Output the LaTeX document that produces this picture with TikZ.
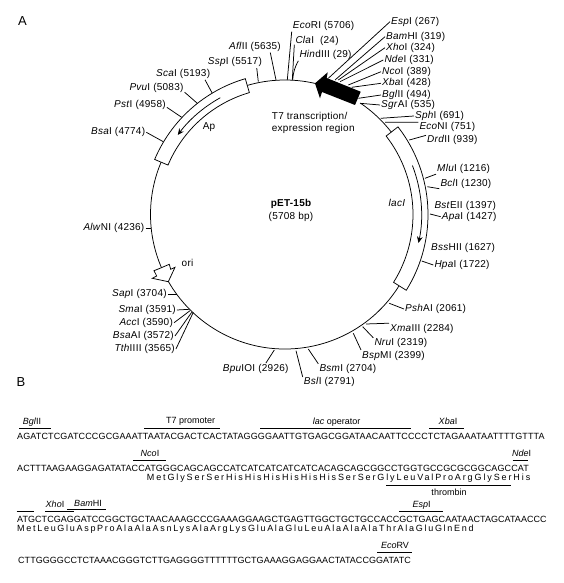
\documentclass[tikz,border=0pt]{standalone}
\usepackage{fontspec}
\setmainfont{Liberation Sans}
\newfontfamily\sitefont[LetterSpace=2.5]{Liberation Sans}
\newfontfamily\seqfont[LetterSpace=0.5]{Liberation Sans}
\newfontfamily\seqwidefont[LetterSpace=1.5]{Liberation Sans}
\newfontfamily\seqmidfont[LetterSpace=1.05]{Liberation Sans}
\newfontfamily\aminofont[LetterSpace=21]{Liberation Sans}
\newfontfamily\aminotightfont[LetterSpace=19]{Liberation Sans}
\usetikzlibrary{arrows.meta,positioning}

\begin{document}
\begin{tikzpicture}[
  x=1pt,y=1pt,
  thin line/.style={line width=.75pt,black},
  site/.style={font=\sitefont\fontsize{10}{11.5}\selectfont,inner sep=1pt},
  tag/.style={font=\fontsize{9}{10}\selectfont,inner sep=0pt},
  seqline/.style={font=\seqfont\fontsize{9}{10}\selectfont,inner sep=0pt,anchor=west},
  aminoline/.style={font=\aminofont\fontsize{9}{10}\selectfont,inner sep=0pt,anchor=west},
  panel/.style={font=\fontsize{13}{14}\selectfont,inner sep=0pt},
  arrow/.style={-{Stealth[length=2.2mm,width=2mm]},thin line}
]
\useasboundingbox (0,0) rectangle (563,-583);
\node[panel] (panelA) at (22.5,-20.7) {A};
\node[panel] (panelB) at (21,-381.7) {B};

% plasmid map
\coordinate (c) at (285,-214.5);
\begin{scope}[shift={(c)}]
  \draw[thin line] (106.3:134.5) arc[start angle=106.3,end angle=77.1,radius=134.5pt];
  \draw[thin line] (55.9:134.5) arc[start angle=55.9,end angle=37.8,radius=134.5pt];
  \draw[thin line] (-32:134.5) arc[start angle=-32,end angle=-150.1,radius=134.5pt];
  \draw[thin line] (203.3:134.5) arc[start angle=203.3,end angle=157.1,radius=134.5pt];
  % Ap and lacI boxes
  \draw[thin line] (106.3:141.5) arc[start angle=106.3,end angle=157.1,radius=141.5pt]
    -- (157.1:127) arc[start angle=157.1,end angle=106.3,radius=127pt] -- cycle;
  \draw[thin line] (37.8:143) arc[start angle=37.8,end angle=-32,radius=143pt]
    -- (-32:128) arc[start angle=-32,end angle=37.8,radius=128pt] -- cycle;
  \draw[arrow] (119:133.5) arc[start angle=119,end angle=143.4,radius=133.5pt];
  \draw[arrow] (21:136.5) arc[start angle=21,end angle=-12,radius=136.5pt];
\end{scope}
% T7 region and ori
\fill[black] (315,-83.3) -- (327.7,-72.3) -- (326.7,-78) -- (360.7,-91.7)
  -- (355,-105) -- (322,-92) -- (320,-98.3) -- cycle;
\draw[thin line] (160,-268.3) -- (169.3,-264.3) -- (170.7,-269.3) -- (175,-267.3)
  -- (168.3,-281.7) -- (152.3,-278.3) -- (156.7,-276) -- (154,-270.7) -- cycle;

\node[font=\sitefont\bfseries\fontsize{10}{11}\selectfont,inner sep=0pt] (name) at (291,-204) {pET-15b};
\node[site,inner sep=0pt] (size) at (291,-216.7) {(5708 bp)};
\node[site,inner sep=0pt,align=left,anchor=north west] (t7region) at (271.7,-112.5)
  {T7 transcription/\\expression region};
\node[site,inner sep=0pt] (ap) at (209,-126.7) {Ap};
\node[site,inner sep=0pt] (oriname) at (187.5,-263.3) {ori};
\node[site,inner sep=0pt] (lacI) at (397,-203.3) {\textit{lacI}};

% restriction sites: name/label x/label y/text/tick start on label/tick end x/tick end y
\foreach \nm/\lx/\ly/\txt/\sta/\tx/\ty in {
  aflII/228/46.7/{\textit{Afl}II (5635)}/-21/276/80,
  sspI/206.7/62.3/{\textit{Ssp}I (5517)}/-15/258.3/81.7,
  scaI/155/74/{\textit{Sca}I (5193)}/-15/212.3/93.3,
  pvuI/128.3/88.3/{\textit{Pvu}I (5083)}/-8/197.3/103.3,
  pstI/113/105/{\textit{Pst}I (4958)}/-5/181.7/117.3,
  bsaI/90/132.3/{\textit{Bsa}I (4774)}/0/163.3/141.7,
  ecoRI/291.7/26/{\textit{Eco}RI (5706)}/190/287.3/80,
  claI/294.3/40.7/{\textit{Cla}I \ (24)}/190/292.3/80,
  espI/390/21.7/{\textit{Esp}I (267)}/180/328.3/78.3,
  bamHI/385/36.7/{\textit{Bam}HI (319)}/180/335/80,
  xhoI/385/47.7/{\textit{Xho}I (324)}/180/338.3/80,
  ndeI/383.3/60/{\textit{Nde}I (331)}/180/340/81.7,
  ncoI/381/71.7/{\textit{Nco}I (389)}/180/348.3/85,
  xbaI/381/83.3/{\textit{Xba}I (428)}/180/351.7/87.3,
  bglII/381/95/{\textit{Bgl}II (494)}/180/358.3/98.3,
  sgrAI/380/105/{\textit{Sgr}AI (535)}/180/360/103.3,
  sphI/414/116/{\textit{Sph}I (691)}/180/380.7/118.3,
  ecoNI/418.3/127.3/{\textit{Eco}NI (751)}/170/385/122.3,
  drdII/426/140/{\textit{Drd}II (939)}/170/409.3/140,
  mluI/436/169.3/{\textit{Mlu}I (1216)}/190/425/178.3,
  bclI/439.3/184/{\textit{Bcl}I (1230)}/190/427.3/186.7,
  apaI/440.7/216.7/{\textit{Apa}I (1427)}/180/430/214,
  hpaI/433.3/265/{\textit{Hpa}I (1722)}/180/421.7/261,
  pshAI/404/309/{\textit{Psh}AI (2061)}/180/389.3/303.3,
  xmaIII/389/329/{\textit{Xma}III (2284)}/170/366/324,
  nruI/373.3/342.7/{\textit{Nru}I (2319)}/170/362.7/326.7,
  bspMI/361/355.7/{\textit{Bsp}MI (2399)}/170/353.3/333.3,
  bsmI/318.3/369/{\textit{Bsm}I (2704)}/170/308.3/349,
  bslI/302.7/381.7/{\textit{Bsl}I (2791)}/170/296/350.7,
  bpuIOI/221.7/369/{\textit{Bpu}IOI (2926)}/30/274.3/350,
  sapI/111/294.3/{\textit{Sap}I (3704)}/0/176.7/294.3,
  smaI/117.3/310/{\textit{Sma}I (3591)}/0/189.3/309.3,
  accI/118.3/322.7/{\textit{Acc}I (3590)}/0/190/310.7,
  bsaAI/111.7/336/{\textit{Bsa}AI (3572)}/0/191.7/312.3,
  tthIIII/113.3/349/{\textit{Tth}IIII (3565)}/0/193.3/312.3,
  alwNI/82.3/228.3/{\textit{Alw}NI (4236)}/0/150.7/228.3}{
  \node[site,anchor=west] (\nm) at (\lx,-\ly) {\txt};
  \coordinate (\nm tick) at (\tx,-\ty);
  \draw[thin line] (\nm.\sta) -- (\nm tick);
}
% sites without a tick of their own
\node[site,anchor=west] (hindIII) at (298.3,-55) {\textit{Hin}dIII (29)};
\coordinate (hindIIItick) at (292.7,-80);
\draw[thin line] (hindIII.south west) to[bend right=12] (hindIIItick);
\node[site,anchor=west] (bstEII) at (433.3,-205.7) {\textit{Bst}EII (1397)};
\node[site,anchor=west] (bssHII) at (430,-247.7) {\textit{Bss}HII (1627)};

% sequences
\node[seqline,font=\seqwidefont\fontsize{9}{10}\selectfont] (seqA) at (17,-436.7) {AGATCTCGATCCCGCGAAATTAATACGACTCACTATAGGGGAATTGTGAGCGGATAACAATTCCCCTCTAGAAATAATTTTGTTTA};
\node[seqline,font=\seqmidfont\fontsize{9}{10}\selectfont] (seqB) at (17,-468) {ACTTTAAGAAGGAGATATACCATGGGCAGCAGCCATCATCATCATCATCACAGCAGCGGCCTGGTGCCGCGCGGCAGCCAT};
\node[aminoline] (aminoB) at (146.7,-478.5) {MetGlySerSerHisHisHisHisHisHisSerSerGlyLeuValProArgGlySerHis};
\node[seqline] (seqC) at (17,-519) {ATGCTCGAGGATCCGGCTGCTAACAAAGCCCGAAAGGAAGCTGAGTTGGCTGCTGCCACCGCTGAGCAATAACTAGCATAACCC};
\node[aminoline,font=\aminotightfont\fontsize{9}{10}\selectfont] (aminoC) at (17,-529) {MetLeuGluAspProAlaAlaAsnLysAlaArgLysGluAlaGluLeuAlaAlaAlaThrAlaGluGlnEnd};
\node[seqline] (seqD) at (18,-560.7) {CTTGGGGCCTCTAAACGGGTCTTGAGGGGTTTTTTGCTGAAAGGAGGAACTATACCGGATATC};

% feature bars: name/bar start/bar end/bar y/label x/label y/text
\foreach \nm/\xa/\xb/\by/\lx/\ly/\txt in {
  barBgl/19/50.7/428/32/421.7/{\textit{Bgl}II},
  barTsev/144/220/428/190.7/421.7/{T7 promoter},
  barLac/260/411/428/336.7/421.7/{\textit{lac} operator},
  barXba/429/464/428/448/421.7/{\textit{Xba}I},
  barNco/133/166/460/150/453/{\textit{Nco}I},
  barNde/512.7/528/460/521.7/453/{\textit{Nde}I},
  barXho/45/74/511/55/504/{\textit{Xho}I},
  barBam/67/106/509/88/503/{\textit{Bam}HI},
  barEsp/399/442.7/511/421.7/505/{\textit{Esp}I},
  barEco/377/412/552/395/545.7/{\textit{Eco}RV},
  barThr/386/510.7/485/449/492/{thrombin}}{
  \node[tag] (\nm) at (\lx,-\ly) {\txt};
  \coordinate (\nm a) at (\xa,-\by);
  \coordinate (\nm b) at (\xb,-\by);
  \draw[thin line] (\nm a) -- (\nm b);
}
\coordinate (barStuba) at (16.7,-511);
\coordinate (barStubb) at (34,-511);
\draw[thin line] (barStuba) -- (barStubb);
\end{tikzpicture}
\end{document}
